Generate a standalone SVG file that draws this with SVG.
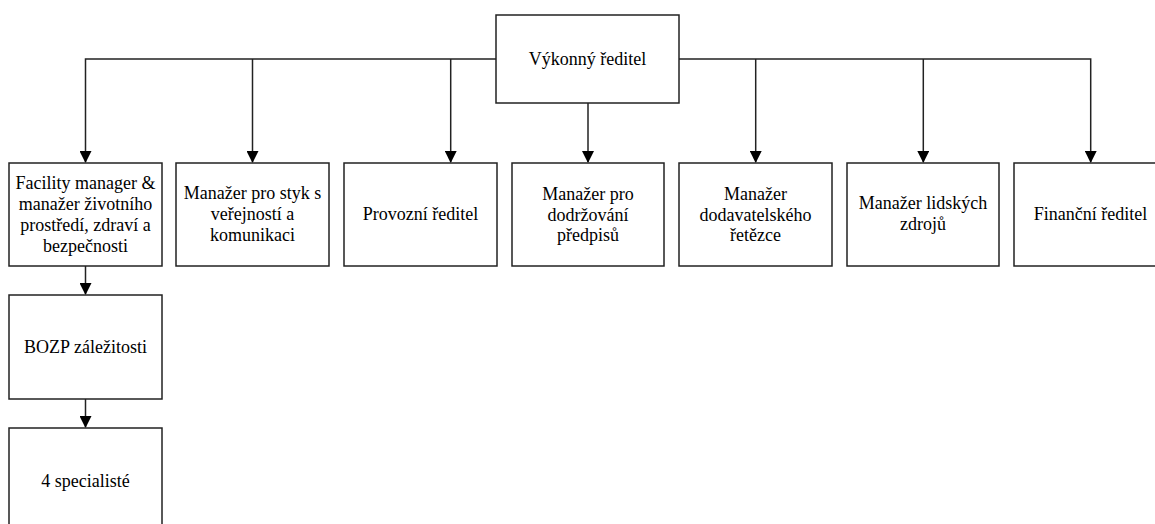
<svg xmlns="http://www.w3.org/2000/svg" width="1155" height="524" viewBox="0 0 1155 524">
<style>
.box{fill:#fff;stroke:#222;stroke-width:1.5}
.t{font-family:"Liberation Serif","Times New Roman",serif;font-size:18px;fill:#000;text-anchor:middle}
.c{fill:none;stroke:#222;stroke-width:1.5}
</style>
<defs>
<marker id="ah" markerWidth="12" markerHeight="12" viewBox="0 0 12 12" refX="11" refY="6" orient="auto" markerUnits="userSpaceOnUse">
<path d="M0,0 L12,6 L0,12 Z" fill="#000"/>
</marker>
</defs>
<rect width="1155" height="524" fill="#fff"/>
<g id="connectors">
<path class="c" d="M496,59 H85.5 V162" marker-end="url(#ah)"/>
<path class="c" d="M252.5,59 V162" marker-end="url(#ah)"/>
<path class="c" d="M450.7,59 V162" marker-end="url(#ah)"/>
<path class="c" d="M588,103 V162" marker-end="url(#ah)"/>
<path class="c" d="M679,59 H1090.7 V162" marker-end="url(#ah)"/>
<path class="c" d="M755.7,59 V162" marker-end="url(#ah)"/>
<path class="c" d="M923.3,59 V162" marker-end="url(#ah)"/>
<path class="c" d="M85.5,266 V294" marker-end="url(#ah)"/>
<path class="c" d="M85.5,399 V427" marker-end="url(#ah)"/>
</g>
<g id="ceo">
<rect class="box" x="496" y="15" width="183" height="88"/>
<text class="t" x="587.5" y="65">Výkonný ředitel</text>
</g>
<g id="facility">
<rect class="box" x="9" y="163" width="153" height="103"/>
<text class="t" x="85.5" y="189">Facility manager &amp;</text>
<text class="t" x="85.5" y="210">manažer životního</text>
<text class="t" x="85.5" y="231">prostředí, zdraví a</text>
<text class="t" x="85.5" y="252">bezpečnosti</text>
</g>
<g id="pr">
<rect class="box" x="176" y="163" width="153" height="103"/>
<text class="t" x="252.5" y="199">Manažer pro styk s</text>
<text class="t" x="252.5" y="220">veřejností a</text>
<text class="t" x="252.5" y="241">komunikaci</text>
</g>
<g id="provozni">
<rect class="box" x="344" y="163" width="153" height="103"/>
<text class="t" x="420.5" y="220">Provozní ředitel</text>
</g>
<g id="compliance">
<rect class="box" x="512" y="163" width="152" height="103"/>
<text class="t" x="588" y="200">Manažer pro</text>
<text class="t" x="588" y="221">dodržování</text>
<text class="t" x="588" y="241">předpisů</text>
</g>
<g id="supply">
<rect class="box" x="679" y="163" width="153" height="103"/>
<text class="t" x="755.5" y="200">Manažer</text>
<text class="t" x="755.5" y="221">dodavatelského</text>
<text class="t" x="755.5" y="241">řetězce</text>
</g>
<g id="hr">
<rect class="box" x="847" y="163" width="152" height="103"/>
<text class="t" x="923" y="209">Manažer lidských</text>
<text class="t" x="923" y="230">zdrojů</text>
</g>
<g id="cfo">
<rect class="box" x="1014" y="163" width="153" height="103"/>
<text class="t" x="1090.5" y="220">Finanční ředitel</text>
</g>
<g id="bozp">
<rect class="box" x="9" y="295" width="153" height="104"/>
<text class="t" x="85.5" y="353">BOZP záležitosti</text>
</g>
<g id="specialists">
<rect class="box" x="9" y="428" width="153" height="104"/>
<text class="t" x="85.5" y="487">4 specialisté</text>
</g>
</svg>
